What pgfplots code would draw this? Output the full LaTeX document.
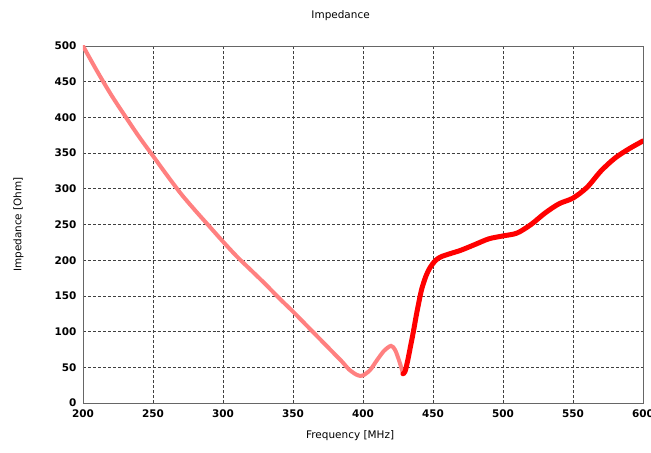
\documentclass[border=0pt]{standalone}
\usepackage{fontspec}
\setmainfont{DejaVu Sans}
\usepackage{pgfplots}
\pgfplotsset{compat=1.18}
\definecolor{pinkline}{RGB}{255,128,128}
\definecolor{redline}{RGB}{255,0,0}
\begin{document}
\begin{tikzpicture}
\useasboundingbox (-83bp,-50bp) rectangle (568bp,403bp);
\begin{axis}[
  at={(0,0)}, anchor=south west,
  scale only axis, width=560bp, height=357bp,
  xmin=200, xmax=600, ymin=0, ymax=500,
  xtick={200,250,...,600}, ytick={0,50,...,500},
  grid=major,
  grid style={densely dashed, black!75, line width=0.6pt},
  axis line style={gray!80!black, line width=0.8pt},
  tick style={draw=none},
  /pgf/number format/assume math mode=true,
  /pgf/number format/set thousands separator={},
  ticklabel style={font=\fontsize{10.5}{12}\selectfont\bfseries},
  xticklabel style={yshift=-3bp},
  yticklabel style={xshift=-3bp},
  title={Impedance},
  title style={font=\fontsize{10.5}{12}\selectfont, at={(axis description cs:0.46,1)}, anchor=south, yshift=16bp},
  xlabel={Frequency [MHz]},
  xlabel style={font=\fontsize{10.5}{12}\selectfont, at={(axis description cs:0.477,0)}, anchor=north, yshift=-24bp},
  ylabel={Impedance [Ohm]},
  ylabel style={font=\fontsize{10.5}{12}\selectfont, at={(axis description cs:-0.115,0.5)}, anchor=center},
  clip=true,
]
\addplot[pinkline, line width=4bp, smooth, tension=0.5, line cap=round] coordinates {
(200,500) (210,465) (220,432) (230,402) (240,373) (250,346) (260,319) (270,293)
(280,270) (290,248) (300,226) (310,205) (320,186) (330,167) (340,147) (350,128)
(360,108) (370,88) (380,68) (385,58) (390,47) (395,40) (398,38) (400,38.5)
(405,46) (410,60) (415,73) (420,80) (423,74) (426,58) (428.5,42)
};
\addplot[redline, line width=5bp, smooth, tension=0.5, line cap=round] coordinates {
(428.5,41) (430,44) (432,60) (434,80) (436,100) (438,122) (440,142) (442,160)
(445,178) (448,190) (452,200) (456,205) (462,209) (470,214) (480,222) (490,230)
(500,234) (510,238) (520,250) (530,266) (540,279) (550,287) (560,302) (570,325)
(580,343) (590,356) (600,367)
};
\end{axis}
\end{tikzpicture}
\end{document}
